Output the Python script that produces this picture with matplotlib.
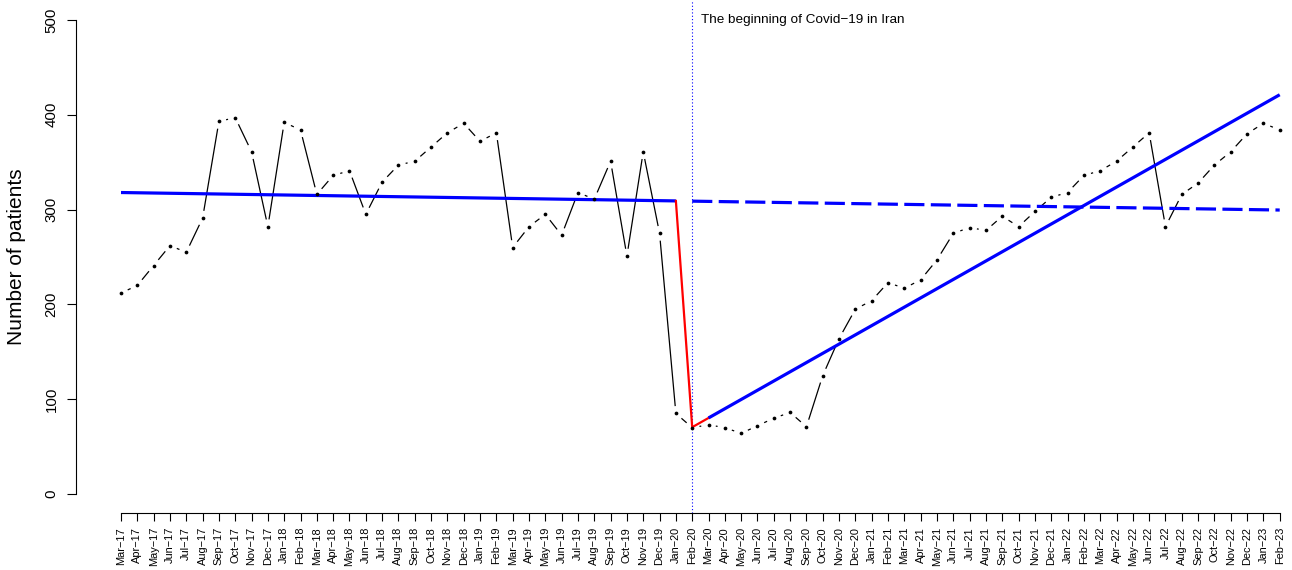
import numpy as np
import pandas as pd
import matplotlib
matplotlib.use("Agg")
import matplotlib.pyplot as plt

plt.rcParams['font.family'] = ['Liberation Sans', 'DejaVu Sans']

# monthly patient counts, Mar-17 .. Feb-23
months = [d.strftime("%b-%y").replace("-", "\u2212")
          for d in pd.date_range("2017-03-01", "2023-02-01", freq="MS")]
patients = [212, 220, 241, 262, 255, 291, 393, 397, 361, 282,
            392, 384, 316, 336, 341, 295, 329, 347, 351, 366, 381, 391,
            372, 381, 260, 282, 295, 273, 318, 311, 351, 251, 361, 275,
            85, 70, 73, 70, 64, 72, 80, 86, 71, 125, 164, 195,
            204, 223, 217, 226, 247, 275, 281, 278, 293, 282, 298, 313,
            318, 336, 341, 351, 366, 381, 282, 316, 328, 347, 361, 380,
            391, 384]

# segmented regression coefficients
intercept = 318.0
pre_slope = -0.26
level_change = -238.4
slope_change = 10.0
break_idx = 35  # Feb-20

annot_text = "The beginning of Covid\u221219 in Iran"

W, H, DPI = 1292, 570, 100
fig = plt.figure(figsize=(W / DPI, H / DPI), dpi=DPI)
left_px, right_px, top_px, bottom_px = 76, 1292, 1, 513
ax = fig.add_axes([left_px / W, (H - bottom_px) / H,
                   (right_px - left_px) / W, (bottom_px - top_px) / H])

n = len(patients)
t = np.arange(n)
ax.set_xlim(-(121 - left_px) / 16.32, (right_px - 121) / 16.32)
ax.set_ylim(-20, 520)

# fitted values
pre_fit = intercept + pre_slope * t
post_fit = pre_fit + level_change + slope_change * (t - break_idx)

# observed series, R type="b" style: points with gapped segments
ax.plot(t, patients, "o", color="black", markersize=2.7, markeredgewidth=0, zorder=3)
pts = ax.transData.transform(np.column_stack([t, patients]))
gap = 8.0
inv = ax.transData.inverted()
for i in range(n - 1):
    p0, p1 = pts[i], pts[i + 1]
    d = p1 - p0
    L = np.hypot(*d)
    if L <= 2 * gap:
        continue
    u = d / L
    a = inv.transform(p0 + u * gap)
    b = inv.transform(p1 - u * gap)
    ax.plot([a[0], b[0]], [a[1], b[1]], color="black", lw=0.9, zorder=2)

# trend lines
ax.plot(t[:break_idx], pre_fit[:break_idx], color="blue", lw=2.3, solid_capstyle="butt")
ax.plot(t[break_idx:], pre_fit[break_idx:], color="blue", lw=2.3,
        dashes=(6.3, 2.0), dash_capstyle="butt")
ax.plot([break_idx - 1, break_idx, break_idx + 1],
        [pre_fit[break_idx - 1], post_fit[break_idx], post_fit[break_idx + 1]],
        color="red", lw=1.6)
ax.plot(t[break_idx + 1:], post_fit[break_idx + 1:], color="blue", lw=2.3,
        solid_capstyle="butt")

ax.axvline(break_idx, color="blue", lw=0.8, linestyle=(0, (1, 2)), zorder=1)
ax.text(break_idx + 0.55, 499.5, annot_text, fontsize=9.7, ha="left", va="center")

# axes styling (R base graphics look)
for side in ["top", "right"]:
    ax.spines[side].set_visible(False)
ax.spines["left"].set_bounds(0, 500)
ax.spines["bottom"].set_bounds(0, n - 1)
ax.spines["left"].set_linewidth(0.8)
ax.spines["bottom"].set_linewidth(0.8)

ax.set_yticks(np.arange(0, 501, 100))
ax.set_yticklabels([str(v) for v in range(0, 501, 100)], rotation=90, va="center",
                   fontsize=10.8)
ax.set_xticks(t)
ax.set_xticklabels(months, rotation=90, fontsize=7.9)
ax.tick_params(axis="y", length=6.5, width=0.8, pad=6)
ax.tick_params(axis="x", length=6, width=0.8, pad=4)

fig.text(17 / W, (H - 257) / H, "Number of patients", fontsize=15,
         rotation=90, ha="center", va="center")

fig.savefig("out.png", dpi=DPI)
